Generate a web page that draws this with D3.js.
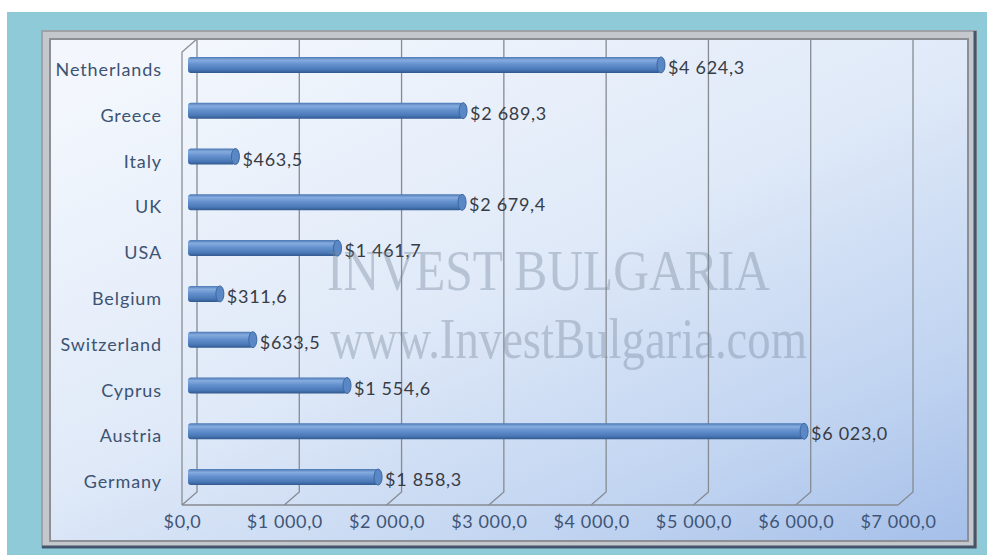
<!DOCTYPE html>
<html>
<head>
<meta charset="utf-8">
<script src="https://d3js.org/d3.v7.min.js"></script>
<style>
  body { margin:0; background:#ffffff; }
  svg { display:block; }
  .cat { font-family: Lato, "Open Sans", sans-serif; font-size:18px; letter-spacing:0.9px; fill:#3d5373; }
  .val { font-family: Lato, "Open Sans", sans-serif; font-size:18px; letter-spacing:0.7px; fill:#383c44; }
  .tick text { font-family: Lato, "Open Sans", sans-serif; font-size:18px; letter-spacing:0.6px; fill:#3f5577; }
  .mark { font-family: "Liberation Serif", "DejaVu Serif", serif; font-size:57px; fill:#75869a; opacity:0.38; }
</style>
</head>
<body>
<svg></svg>
<script>
var categories = ["Netherlands","Greece","Italy","UK","USA","Belgium","Switzerland","Cyprus","Austria","Germany"]
var values = [4624.3, 2689.3, 463.5, 2679.4, 1461.7, 311.6, 633.5, 1554.6, 6023.0, 1858.3]
var tickValues = [0,1000,2000,3000,4000,5000,6000,7000]

var screen = {width:987,height:555}
// depth of the fake 3d box
var depth = {dx:-15,dy:13}
var wall = {top:39,bottom:492}

var locale = d3.formatLocale({decimal:",",thousands:" ",grouping:[3],currency:["$",""]})
var fmt = locale.format("$,.1f")

var svg = d3.select("svg")
    .attr("width",screen.width)
    .attr("height",screen.height)

var defs = svg.append("defs")

var bg = defs.append("linearGradient")
    .attr("id","bg")
    .attr("x1","0.15").attr("y1","0")
    .attr("x2","1").attr("y2","1")
bg.append("stop").attr("offset","0").attr("stop-color","#f3f7fd")
bg.append("stop").attr("offset","0.45").attr("stop-color","#dfe9f8")
bg.append("stop").attr("offset","0.8").attr("stop-color","#bed2f0")
bg.append("stop").attr("offset","1").attr("stop-color","#a5bfe9")

var barGrad = defs.append("linearGradient")
    .attr("id","bar")
    .attr("x1","0").attr("y1","0")
    .attr("x2","0").attr("y2","1")
barGrad.append("stop").attr("offset","0").attr("stop-color","#4a77b4")
barGrad.append("stop").attr("offset","0.2").attr("stop-color","#86acdf")
barGrad.append("stop").attr("offset","0.45").attr("stop-color","#6592cf")
barGrad.append("stop").attr("offset","0.8").attr("stop-color","#4a78b6")
barGrad.append("stop").attr("offset","1").attr("stop-color","#30588e")

// page background and frame
svg.append("rect")
    .attr("x",7).attr("y",12)
    .attr("width",980).attr("height",543)
    .attr("fill","#8fcad8")

svg.append("rect")
    .attr("x",42).attr("y",31)
    .attr("width",934).attr("height",516)
    .attr("fill","#c4c7cc")
    .attr("stroke","#9ea2a8")
    .attr("stroke-width",2)

svg.append("path")
    .attr("d","M975,31 L975,547 L42,547")
    .attr("fill","none")
    .attr("stroke","#44546a")
    .attr("stroke-width",3)

svg.append("rect")
    .attr("x",50).attr("y",39)
    .attr("width",918).attr("height",502)
    .attr("fill","url(#bg)")
    .attr("stroke","#8c9096")
    .attr("stroke-width",2)

var xScale = d3.scaleLinear()
    .domain([0,7000])
    .range([197,913])

var barScale = d3.scaleLinear()
    .domain([0,7000])
    .range([188,904])

var yScale = d3.scaleBand()
    .domain(categories)
    .range([42,500])

// left wall and grid lines with floor bend
var x0 = xScale(0)
svg.append("path")
    .attr("d","M"+x0+","+wall.top+" L"+(x0+depth.dx)+","+(wall.top+depth.dy)+
              " L"+(x0+depth.dx)+","+(wall.bottom+depth.dy))
    .attr("fill","none")
    .attr("stroke","#8a8f96")
    .attr("stroke-width",1.3)

svg.append("g")
    .selectAll("path")
    .data(tickValues)
    .enter()
    .append("path")
    .attr("d",function(t){
        var x = xScale(t)
        return "M"+x+","+wall.top+" L"+x+","+wall.bottom+" L"+(x+depth.dx)+","+(wall.bottom+depth.dy)
    })
    .attr("fill","none")
    .attr("stroke","#868b92")
    .attr("stroke-width",1.3)

svg.append("line")
    .attr("x1",xScale(0)+depth.dx).attr("y1",wall.bottom+depth.dy)
    .attr("x2",xScale(7000)+depth.dx).attr("y2",wall.bottom+depth.dy)
    .attr("stroke","#868b92")
    .attr("stroke-width",1.3)

// x axis labels at the front edge
var xAxis = d3.axisBottom(xScale)
    .tickValues(tickValues)
    .tickFormat(fmt)
    .tickSize(0)
    .tickPadding(0)

var axisG = svg.append("g")
    .attr("transform","translate("+depth.dx+",524)")
    .call(xAxis)
axisG.select(".domain").remove()
axisG.selectAll("text").attr("dy","0.2em")

// bars
var thick = 16
var bars = svg.append("g")
    .selectAll("g")
    .data(values)
    .enter()
    .append("g")

bars.append("rect")
    .attr("x",barScale(0))
    .attr("y",function(d,i){ return yScale(categories[i])+yScale.bandwidth()/2-thick/2 })
    .attr("width",function(d){ return barScale(d)-barScale(0) })
    .attr("height",thick)
    .attr("rx",3)
    .attr("fill","url(#bar)")

bars.append("ellipse")
    .attr("cx",function(d){ return barScale(d) })
    .attr("cy",function(d,i){ return yScale(categories[i])+yScale.bandwidth()/2 })
    .attr("rx",4)
    .attr("ry",thick/2)
    .attr("fill","#5a88c6")
    .attr("stroke","#3d679f")
    .attr("stroke-width",1)

// value labels
svg.append("g")
    .selectAll("text")
    .data(values)
    .enter()
    .append("text")
    .classed("val",true)
    .attr("x",function(d){ return barScale(d)+7 })
    .attr("y",function(d,i){ return yScale(categories[i])+yScale.bandwidth()/2+9 })
    .text(function(d){ return fmt(d) })

// category labels
svg.append("g")
    .selectAll("text")
    .data(categories)
    .enter()
    .append("text")
    .classed("cat",true)
    .attr("text-anchor","end")
    .attr("x",162)
    .attr("y",function(c){ return yScale(c)+yScale.bandwidth()/2+11 })
    .text(function(c){ return c })

// watermark
svg.append("text")
    .classed("mark",true)
    .attr("x",327).attr("y",290)
    .attr("textLength",443)
    .attr("lengthAdjust","spacingAndGlyphs")
    .text("INVEST BULGARIA")

svg.append("text")
    .classed("mark",true)
    .attr("x",330).attr("y",358)
    .attr("textLength",477)
    .attr("lengthAdjust","spacingAndGlyphs")
    .text("www.InvestBulgaria.com")
</script>
</body>
</html>
